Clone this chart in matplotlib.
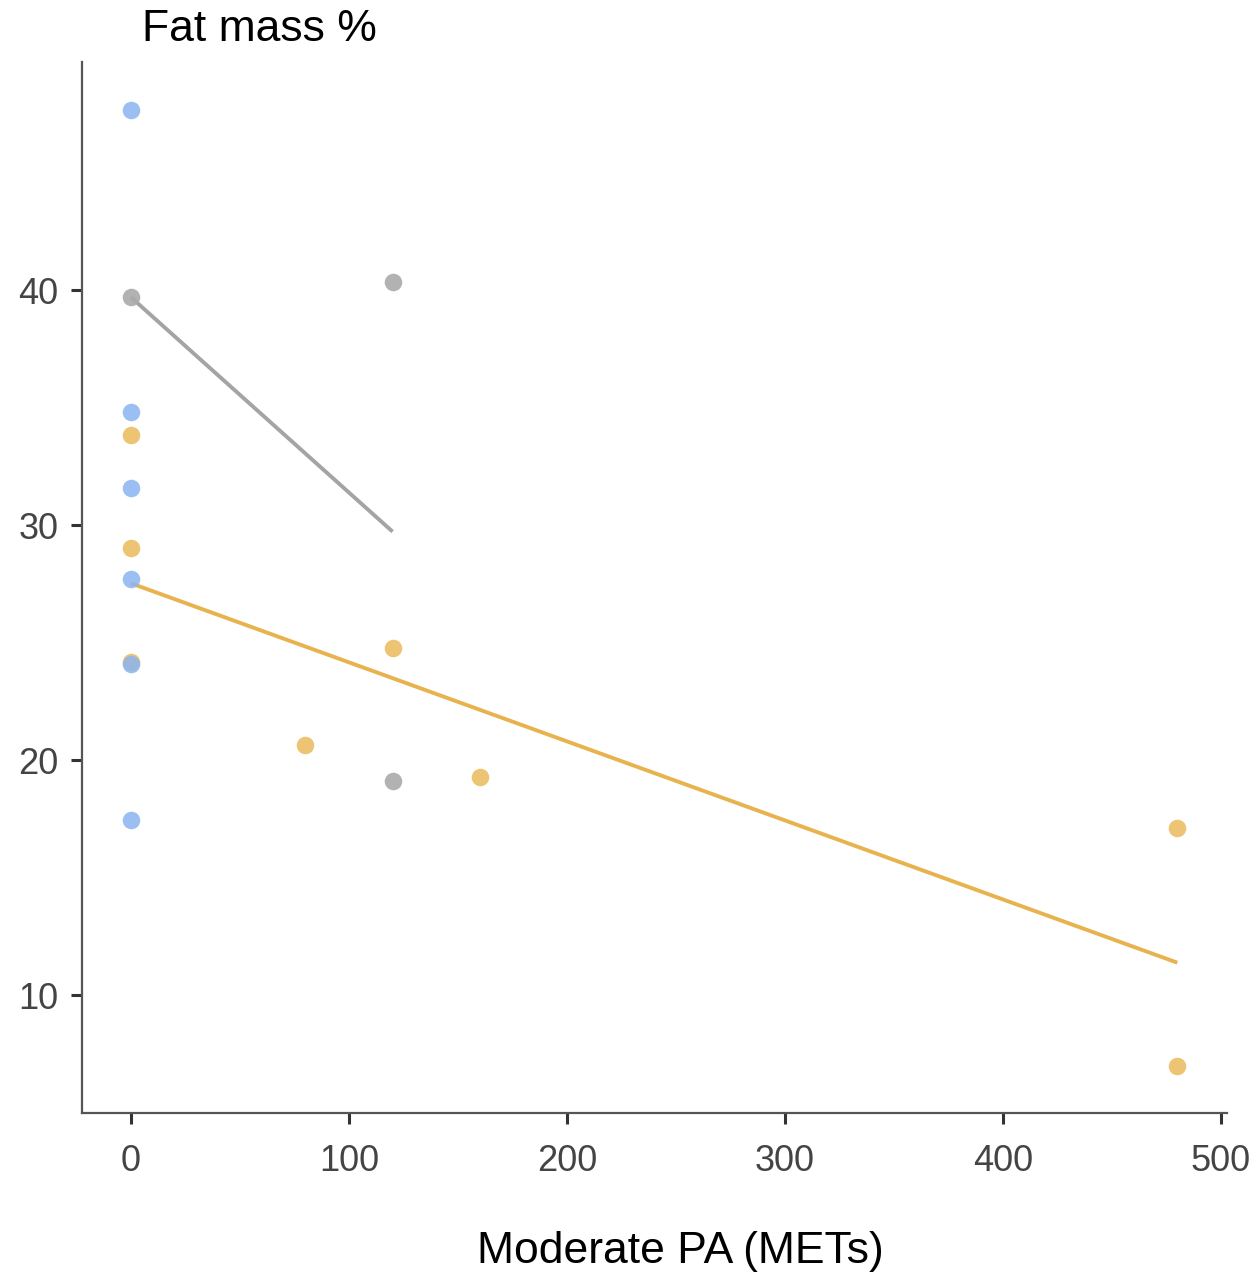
import matplotlib.pyplot as plt
import numpy as np

# Moderate PA (METs) vs fat mass %, three groups
blue_x = [0, 0, 0, 0, 0, 0]
blue_y = [47.66, 34.81, 31.57, 27.70, 24.09, 17.45]

orange_x = [0, 0, 0, 80, 120, 160, 480, 480]
orange_y = [33.83, 29.02, 24.17, 20.64, 24.77, 19.28, 17.11, 6.98]

gray_x = [0, 120, 120]
gray_y = [39.70, 40.34, 19.11]

x_ticks = [0, 100, 200, 300, 400, 500]
y_ticks = [10, 20, 30, 40]

BLUE = "#8AB4F0"
ORANGE = "#EBBE64"
GRAY = "#AAAAAA"

TICK_FONT = ["Liberation Sans Narrow", "Liberation Sans", "DejaVu Sans"]
LABEL_FONT = ["Liberation Sans", "DejaVu Sans"]


def fit_line(ax, xs, ys, color):
    xs = np.asarray(xs, dtype=float)
    ys = np.asarray(ys, dtype=float)
    slope, intercept = np.polyfit(xs, ys, 1)
    xx = np.array([xs.min(), xs.max()])
    ax.plot(xx, slope * xx + intercept, color=color, linewidth=2.8,
            solid_capstyle="butt", zorder=2)


fig = plt.figure(figsize=(12.55, 12.72), dpi=100)
ax = fig.add_axes([0.0653, 0.125, 0.9124, 0.826])

ax.scatter(gray_x, gray_y, s=160, color=GRAY, alpha=0.9, linewidths=0, zorder=3)
ax.scatter(orange_x, orange_y, s=160, color=ORANGE, alpha=0.9, linewidths=0, zorder=3)
ax.scatter(blue_x, blue_y, s=160, color=BLUE, alpha=0.85, linewidths=0, zorder=4)

fit_line(ax, gray_x, gray_y, "#A4A4A4")
fit_line(ax, orange_x, orange_y, "#E8B34E")

ax.set_xlim(-22.5, 502.8)
ax.set_ylim(4.98, 49.7)
ax.set_xticks(x_ticks)
ax.set_yticks(y_ticks)

for side in ["top", "right"]:
    ax.spines[side].set_visible(False)
for side in ["left", "bottom"]:
    ax.spines[side].set_color("#555555")
    ax.spines[side].set_linewidth(1.6)

ax.tick_params(axis="both", colors="#333333", width=2.2, length=8,
               labelsize=26, labelcolor="#444444")
ax.tick_params(axis="x", pad=14)
ax.tick_params(axis="y", pad=9)
for lab in ax.get_xticklabels() + ax.get_yticklabels():
    lab.set_family(TICK_FONT)

fig.text(0.113, 0.977, "Fat mass %", fontsize=32, family=LABEL_FONT,
         ha="left", va="center", color="black")
ax.set_xlabel("Moderate PA (METs)", fontsize=32, family=LABEL_FONT,
              color="black")
ax.xaxis.set_label_coords(0.523, -0.112)

fig.savefig("out.png", dpi=100, facecolor="white")
